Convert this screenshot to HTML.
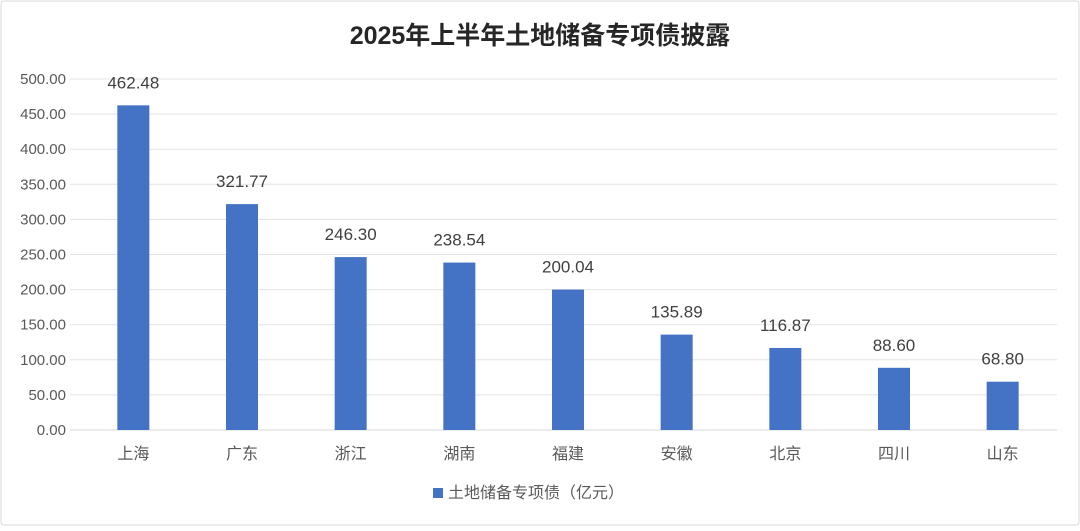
<!DOCTYPE html>
<html><head><meta charset="utf-8">
<style>
body{margin:0;background:#fff;}
svg text{font-family:"Liberation Sans","Noto Sans CJK SC",sans-serif;}
</style></head>
<body>
<svg width="1080" height="526" viewBox="0 0 1080 526">
<rect x="1" y="1" width="1078" height="524" fill="#fff" stroke="#d9d9d9" rx="3"/>
<text x="540" y="44" text-anchor="middle" font-size="25" font-weight="bold" fill="#262626">2025年上半年土地储备专项债披露</text>
<g id="grid"></g><g id="bars"></g>
<rect x="433" y="488" width="10" height="10" fill="#4472c4"/>
<text x="448" y="498" font-size="16" fill="#595959">土地储备专项债（亿元）</text>
</svg>
<script>
const categories=["上海","广东","浙江","湖南","福建","安徽","北京","四川","山东"];
const values=[462.48,321.77,246.30,238.54,200.04,135.89,116.87,88.60,68.80];
const ticks=[0,50,100,150,200,250,300,350,400,450,500];
const NS="http://www.w3.org/2000/svg";
const gx0=70,bx0=79,x1=1057,yb=430,yt=79,ymax=500;
const y=v=>yb-(yb-yt)*v/ymax;
const band=(x1-bx0)/categories.length;
const xc=i=>bx0+band*(i+0.5);
function mk(t,a,p){const e=document.createElementNS(NS,t);for(const k in a)e.setAttribute(k,a[k]);p.appendChild(e);return e;}
const g=document.getElementById("grid"),b=document.getElementById("bars");
ticks.forEach(t=>{
 const l=mk("line",{x1:gx0,x2:x1,y1:y(t),y2:y(t),stroke:t===0?"#d9d9d9":"#e3e3e3","stroke-width":1},g);
 
 
 const tx=mk("text",{x:66,y:y(t)+5,"text-anchor":"end","font-size":15,fill:"#595959"},g);
 tx.textContent=t.toFixed(2);
 
 
});
categories.forEach((c,i)=>{
 const r=mk("rect",{x:xc(i)-16,y:y(values[i]),width:32,height:yb-y(values[i]),fill:"#4472c4"},b);
 
 
 const v=mk("text",{x:xc(i),y:y(values[i])-17,"text-anchor":"middle","font-size":17,fill:"#404040"},b);
 v.textContent=values[i].toFixed(2);
 
 
 const cl=mk("text",{x:xc(i),y:459,"text-anchor":"middle","font-size":16,fill:"#595959"},b);
 cl.textContent=c;
 
 
});
</script>
</body></html>
